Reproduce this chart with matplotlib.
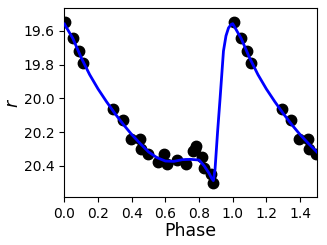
import numpy as np
import matplotlib
matplotlib.use("Agg")
import matplotlib.pyplot as plt

# observed points (phase, r mag)
obs_phase = [0.005, 0.052, 0.084, 0.108, 0.290, 0.346, 0.395, 0.449, 0.453, 0.497,
             0.557, 0.593, 0.610, 0.667, 0.720, 0.766, 0.780, 0.775, 0.819, 0.829,
             0.871, 0.884]
obs_mag = [19.547, 19.641, 19.720, 19.790, 20.062, 20.129, 20.244, 20.244, 20.303, 20.330,
           20.380, 20.332, 20.387, 20.368, 20.390, 20.311, 20.283, 20.300, 20.350, 20.415,
           20.449, 20.504]

# model curve
fit_phase = [0.00, 0.05, 0.10, 0.15, 0.20, 0.25, 0.30, 0.35, 0.40, 0.45, 0.50,
             0.55, 0.60, 0.65, 0.70, 0.75, 0.80, 0.83, 0.86, 0.875, 0.885, 0.895,
             0.91, 0.925, 0.945, 0.96, 0.975, 0.99, 1.00]
fit_mag = [19.560, 19.645, 19.760, 19.860, 19.945, 20.020, 20.090, 20.155, 20.215, 20.268, 20.318,
           20.352, 20.372, 20.374, 20.364, 20.362, 20.366, 20.400, 20.445, 20.475, 20.488, 20.420,
           20.200, 20.000, 19.720, 19.630, 19.583, 19.563, 19.558]

obs_phase = np.array(obs_phase)
obs_mag = np.array(obs_mag)
fit_phase = np.array(fit_phase)
fit_mag = np.array(fit_mag)

# repeat the first half cycle after phase 1
m = obs_phase < 0.5
ph_all = np.concatenate([obs_phase, obs_phase[m] + 1])
mag_all = np.concatenate([obs_mag, obs_mag[m]])
f = fit_phase <= 0.5
fph = np.concatenate([fit_phase, fit_phase[f][1:] + 1])
fmag = np.concatenate([fit_mag, fit_mag[f][1:]])

fig = plt.figure(figsize=(3.27, 2.45), dpi=100)
ax = fig.add_axes([0.197, 0.196, 0.772, 0.770])
ax.plot(ph_all, mag_all, 'o', color='black', ms=7.5, zorder=2)
ax.plot(fph, fmag, '-', color='#0000ff', lw=2.0, zorder=3)

ax.set_xlim(0, 1.5)
ax.set_ylim(20.585, 19.467)
ax.set_xticks(np.arange(0, 1.5, 0.2))
ax.set_yticks([19.6, 19.8, 20.0, 20.2, 20.4])
ax.tick_params(labelsize=10)
ax.set_xlabel('Phase', fontsize=12.5, labelpad=1)
ax.set_ylabel('$r$', fontsize=12.5, labelpad=1)

fig.savefig('out.png', dpi=100)
